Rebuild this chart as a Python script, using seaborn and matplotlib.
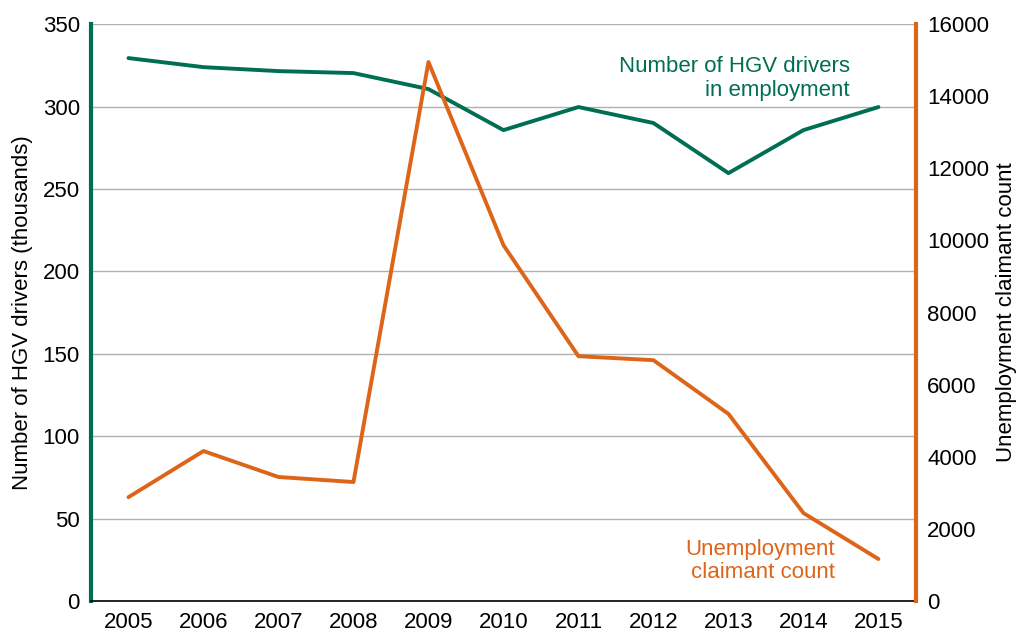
import matplotlib
matplotlib.use("Agg")
import matplotlib.pyplot as plt
import seaborn as sns
import pandas as pd

years = ["2005", "2006", "2007", "2008", "2009", "2010", "2011", "2012", "2013", "2014", "2015"]
hgv_drivers = [329.4, 323.9, 321.5, 320.3, 310.6, 285.7, 299.7, 290.0, 259.6, 285.7, 299.7]
claimant_count = [2880, 4160, 3440, 3300, 14950, 9870, 6790, 6680, 5190, 2440, 1165]

GREEN = "#006E52"
ORANGE = "#DD6519"

sns.set_style("white")
plt.rcParams["font.family"] = ["Liberation Sans", "DejaVu Sans"]
plt.rcParams["text.color"] = "black"
plt.rcParams["axes.labelcolor"] = "black"
plt.rcParams["xtick.color"] = "black"
plt.rcParams["ytick.color"] = "black"

df = pd.DataFrame({"year": years, "drivers": hgv_drivers, "claimants": claimant_count})

fig = plt.figure(figsize=(10.21, 6.35), dpi=100)
ax = fig.add_axes([0.0891, 0.0535, 0.808, 0.9085])
ax2 = ax.twinx()

# gridlines on left scale
ax.set_ylim(0, 350)
ax.set_yticks(range(0, 351, 50))
ax.yaxis.grid(True, color="#b0b0b0", linewidth=1)
ax.set_axisbelow(True)

sns.lineplot(data=df, x="year", y="drivers", ax=ax, color=GREEN, linewidth=2.8, sort=False)
sns.lineplot(data=df, x="year", y="claimants", ax=ax2, color=ORANGE, linewidth=2.8, sort=False)

ax.set_xlim(-0.5, 10.5)
ax2.set_ylim(0, 16000)
ax2.set_yticks(range(0, 16001, 2000))

for a in (ax, ax2):
    a.spines["top"].set_visible(False)
    a.tick_params(axis="both", labelsize=16, length=0, pad=8, labelcolor="black")
ax.spines["left"].set_color(GREEN)
ax.spines["left"].set_linewidth(3)
ax.spines["right"].set_visible(False)
ax2.spines["left"].set_visible(False)
ax2.spines["bottom"].set_visible(False)
ax2.spines["right"].set_color(ORANGE)
ax2.spines["right"].set_linewidth(3)
ax.spines["bottom"].set_color("black")
ax.spines["bottom"].set_linewidth(1.2)

ax.set_xlabel("")
ax.set_ylabel("Number of HGV drivers (thousands)", fontsize=16, labelpad=7, color="black")
ax2.set_ylabel("Unemployment claimant count", fontsize=16, labelpad=5, color="black")

ax.text(9.62, 317, "Number of HGV drivers\nin employment", color=GREEN, fontsize=16,
        ha="right", va="center", linespacing=1.15)
ax2.text(9.42, 1110, "Unemployment\nclaimant count", color=ORANGE, fontsize=16,
         ha="right", va="center", linespacing=1.15)

fig.savefig("out.png", dpi=100)
